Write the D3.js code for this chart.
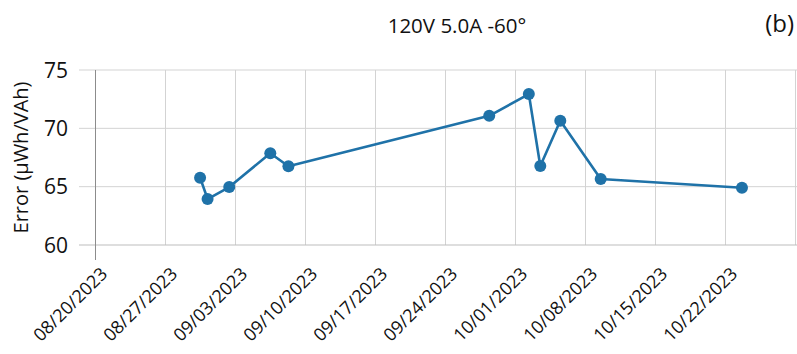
<!DOCTYPE html>
<html>
<head>
<meta charset="utf-8">
<script src="https://cdn.jsdelivr.net/npm/d3@7"></script>
<style>
  body { margin: 0; background: #fff; }
  svg { font-family: "Open Sans", sans-serif; }
</style>
</head>
<body>
<div id="chart"></div>
<script>
// measurement dates and errors
var dates = ["2023-08-30T11:00", "2023-08-31T05:00", "2023-09-02T09:00", "2023-09-06T11:30",
             "2023-09-08T07:00", "2023-09-28T09:00", "2023-10-02T08:00", "2023-10-03T11:30",
             "2023-10-05T11:30", "2023-10-09T12:30", "2023-10-23T15:30"];
var errors = [65.77, 63.94, 64.97, 67.86, 66.75, 71.07, 72.94, 66.77, 70.65, 65.66, 64.91];
var yTicks = [60, 65, 70, 75];
var xTicks = ["2023-08-20", "2023-08-27", "2023-09-03", "2023-09-10", "2023-09-17",
              "2023-09-24", "2023-10-01", "2023-10-08", "2023-10-15", "2023-10-22", "2023-10-29"];
var title = "120V 5.0A -60°";
var panel = "(b)";
var yLabel = "Error (μWh/VAh)";

var W = 797, H = 354;
var pLeft = 95.5, pRight = 797, pTop = 70, pBottom = 245;

var parse = d3.timeParse("%Y-%m-%dT%H:%M");
var parseDay = d3.timeParse("%Y-%m-%d");
var fmt = d3.timeFormat("%m/%d/%Y");

var data = dates.map(function (d, i) { return { t: parse(d), v: errors[i] }; });
var tickDates = xTicks.map(parseDay);

var x = d3.scaleTime().domain([parseDay("2023-08-20"), parseDay("2023-10-29")]).range([pLeft, 795.5]);
var y = d3.scaleLinear().domain([60, 75]).range([pBottom, pTop]);

var svg = d3.select("#chart").append("svg").attr("width", W).attr("height", H);

// vertical grid lines
svg.selectAll(".vgrid").data(tickDates.slice(1)).enter().append("line")
    .attr("x1", x).attr("x2", x)
    .attr("y1", pTop).attr("y2", pBottom)
    .attr("stroke", "#d3d3d3").attr("stroke-width", 1);

// horizontal grid lines + ticks
svg.selectAll(".hgrid").data(yTicks).enter().append("line")
    .attr("x1", 79).attr("x2", pRight)
    .attr("y1", y).attr("y2", y)
    .attr("stroke", function (d) { return d === 60 ? "#bdbdbd" : "#d3d3d3"; })
    .attr("stroke-width", 1);

// y axis line
svg.append("line").attr("x1", pLeft).attr("x2", pLeft).attr("y1", pTop).attr("y2", 260)
    .attr("stroke", "#8c8c8c").attr("stroke-width", 1);

// y tick labels
svg.selectAll(".ylab").data(yTicks).enter().append("text")
    .attr("x", 68).attr("y", function (d) { return y(d) + 7.5; })
    .attr("text-anchor", "end").attr("font-size", 21).attr("fill", "#111")
    .text(function (d) { return d; });

// x tick labels, rotated
svg.selectAll(".xlab").data(tickDates.slice(0, 10)).enter().append("text")
    .attr("transform", function (d) { return "translate(" + (x(d) + 13) + ",275) rotate(-45)"; })
    .attr("text-anchor", "end").attr("font-size", 18).attr("fill", "#111")
    .text(fmt);

// y label
svg.append("text").attr("transform", "translate(28," + ((pTop + pBottom) / 2) + ") rotate(-90)")
    .attr("text-anchor", "middle").attr("font-size", 20).attr("fill", "#111")
    .text(yLabel);

// title and panel tag
svg.append("text").attr("x", 457).attr("y", 33).attr("text-anchor", "middle")
    .attr("font-size", 20.5).attr("fill", "#111").text(title);
svg.append("text").attr("x", 794).attr("y", 32).attr("text-anchor", "end")
    .attr("font-size", 24).attr("fill", "#111").text(panel);

var line = d3.line()
    .x(function (d) { return x(d.t); })
    .y(function (d) { return y(d.v); });

svg.append("path").attr("d", line(data)).attr("fill", "none")
    .attr("stroke", "#1f72a8").attr("stroke-width", 2.6).attr("stroke-linejoin", "round");

svg.selectAll(".dot").data(data).enter().append("circle")
    .attr("cx", function (d) { return x(d.t); })
    .attr("cy", function (d) { return y(d.v); })
    .attr("r", 6).attr("fill", "#1f72a8");
</script>
</body>
</html>
